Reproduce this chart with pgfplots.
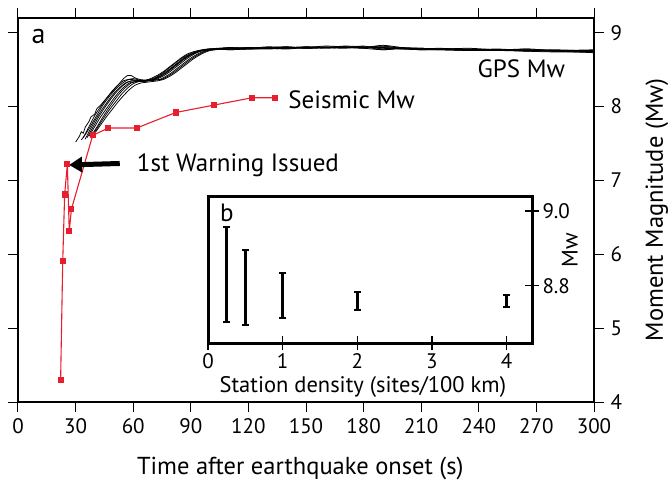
\documentclass[border=0pt]{standalone}
\usepackage{fontspec}
\setmainfont{PT Sans}
\usepackage{pgfplots}
\pgfplotsset{compat=1.18}
\usetikzlibrary{arrows.meta}
\definecolor{seisred}{RGB}{230,30,45}

\newcommand{\fs}[1]{\fontsize{#1}{#1}\selectfont}

\begin{document}
\begin{tikzpicture}
\useasboundingbox (0pt,0pt) rectangle (672pt,483pt);

% ---------------- main panel (a) ----------------
\begin{axis}[
  at={(18pt,81pt)}, anchor=south west,
  scale only axis, width=576pt, height=384pt,
  xmin=0, xmax=300, ymin=4, ymax=9.2,
  xtick={0,30,...,300}, ytick={4,5,...,9},
  tick align=outside, major tick length=10pt,
  xtick pos=both, ytick pos=both,
  xticklabel pos=lower, yticklabel pos=right,
  axis line style={line width=2pt},
  tick style={line width=1pt, black},
  /pgf/number format/assume math mode=true,
  ticklabel style={font=\fs{21}},
  xticklabel style={yshift=-3pt},
  yticklabel style={xshift=3pt},
  xlabel={Time after earthquake onset (s)},
  ylabel={Moment Magnitude (Mw)},
  label style={font=\fs{24.5}},
  xlabel style={at={(axis description cs:0.49,-0.19)}, anchor=base},
  ylabel style={at={(axis description cs:1.109,0.5)}, anchor=center},
  clip=false,
]

% GPS magnitude estimates (one line per solution)
\pgfplotsset{gps/.style={black, line width=0.75pt, no marks, smooth, tension=0.4}}
\addplot[gps] coordinates {(30,7.52) (32,7.60) (33,7.66) (34,7.64) (35,7.72) (37,7.80) (38,7.86) (40,7.90) (41,7.97) (43,8.02) (45,8.08) (47,8.14) (49,8.20) (51,8.26) (53,8.32) (55,8.38) (57,8.42) (59,8.42) (61,8.39) (63,8.37) (66,8.36) (69,8.37) (72,8.40) (75,8.45) (78,8.51) (81,8.57) (84,8.63) (87,8.68) (90,8.72) (93,8.75) (96,8.77) (99,8.78)
 (110,8.80) (120,8.79) (130,8.81) (140,8.80) (150,8.80) (160,8.82) (170,8.81) (180,8.80) (190,8.82) (200,8.79) (210,8.79) (220,8.78) (235,8.79) (250,8.77) (265,8.78) (280,8.76) (300,8.77)};
\addplot[gps] coordinates {(33,7.55) (35,7.62) (37,7.70) (39,7.79) (41,7.88) (43,7.97) (45,8.05) (48,8.15) (51,8.24) (54,8.31) (57,8.36) (60,8.38) (63,8.36) (66,8.35) (69,8.36) (72,8.39) (75,8.44) (78,8.49) (81,8.55) (84,8.61) (87,8.67) (90,8.71) (93,8.74) (96,8.76) (99,8.78)
 (110,8.78) (120,8.80) (130,8.79) (140,8.81) (150,8.79) (160,8.80) (170,8.80) (180,8.82) (190,8.78) (200,8.79) (210,8.78) (220,8.79) (235,8.77) (250,8.78) (265,8.76) (280,8.77) (300,8.75)};
\addplot[gps] coordinates {(34,7.58) (37,7.73) (40,7.88) (43,8.00) (46,8.11) (49,8.21) (52,8.29) (55,8.35) (58,8.37) (61,8.36) (64,8.35) (67,8.36) (70,8.39) (73,8.43) (76,8.48) (79,8.54) (82,8.60) (85,8.66) (88,8.71) (91,8.74) (94,8.76) (97,8.77) (100,8.78)
 (110,8.79) (120,8.78) (130,8.79) (140,8.79) (150,8.81) (160,8.80) (170,8.81) (180,8.79) (190,8.77) (200,8.79) (210,8.77) (220,8.77) (235,8.76) (250,8.76) (265,8.77) (280,8.75) (300,8.74)};
\addplot[gps] coordinates {(35,7.56) (38,7.71) (41,7.85) (44,7.97) (47,8.08) (50,8.18) (53,8.26) (56,8.32) (59,8.35) (62,8.35) (65,8.34) (68,8.35) (71,8.37) (74,8.41) (77,8.46) (80,8.52) (83,8.58) (86,8.64) (89,8.69) (92,8.73) (95,8.76) (98,8.77) (101,8.78)
 (110,8.78) (120,8.79) (130,8.80) (140,8.79) (150,8.80) (160,8.81) (170,8.80) (180,8.80) (190,8.83) (200,8.80) (210,8.78) (220,8.78) (235,8.77) (250,8.77) (265,8.76) (280,8.76) (300,8.74)};
\addplot[gps] coordinates {(36,7.58) (39,7.72) (42,7.86) (45,7.98) (48,8.09) (51,8.19) (54,8.27) (57,8.33) (60,8.35) (63,8.35) (66,8.35) (69,8.36) (72,8.38) (75,8.42) (78,8.47) (81,8.53) (84,8.59) (87,8.65) (90,8.70) (93,8.73) (96,8.76) (99,8.77) (102,8.78)
 (110,8.79) (120,8.80) (130,8.79) (140,8.80) (150,8.79) (160,8.80) (170,8.79) (180,8.81) (190,8.77) (200,8.79) (210,8.79) (220,8.78) (235,8.78) (250,8.76) (265,8.77) (280,8.75) (300,8.75)};
\addplot[gps] coordinates {(37,7.60) (40,7.73) (43,7.86) (46,7.97) (49,8.08) (52,8.18) (55,8.26) (58,8.32) (61,8.34) (64,8.35) (67,8.35) (70,8.36) (73,8.38) (76,8.42) (79,8.47) (82,8.53) (85,8.59) (88,8.65) (91,8.70) (94,8.74) (97,8.76) (100,8.77) (103,8.78)
 (110,8.77) (120,8.78) (130,8.78) (140,8.79) (150,8.80) (160,8.79) (170,8.80) (180,8.79) (190,8.80) (200,8.78) (210,8.77) (220,8.77) (235,8.76) (250,8.77) (265,8.75) (280,8.75) (300,8.73)};
\addplot[gps] coordinates {(38,7.60) (41,7.72) (44,7.85) (47,7.97) (50,8.08) (53,8.18) (56,8.26) (59,8.32) (62,8.34) (65,8.34) (68,8.35) (71,8.36) (74,8.37) (77,8.41) (80,8.46) (83,8.52) (86,8.58) (89,8.64) (92,8.69) (95,8.73) (98,8.76) (101,8.77) (104,8.78)
 (110,8.80) (120,8.79) (130,8.80) (140,8.81) (150,8.79) (160,8.80) (170,8.81) (180,8.80) (190,8.81) (200,8.80) (210,8.79) (220,8.78) (235,8.78) (250,8.76) (265,8.78) (280,8.76) (300,8.76)};
\addplot[gps] coordinates {(39,7.62) (42,7.74) (45,7.86) (48,7.97) (51,8.07) (54,8.17) (57,8.25) (60,8.31) (63,8.34) (66,8.35) (69,8.35) (72,8.36) (75,8.37) (78,8.41) (81,8.46) (84,8.52) (87,8.58) (90,8.64) (93,8.69) (96,8.73) (99,8.76) (102,8.77) (105,8.78)
 (110,8.78) (120,8.79) (130,8.79) (140,8.80) (150,8.81) (160,8.80) (170,8.82) (180,8.81) (190,8.79) (200,8.78) (210,8.78) (220,8.77) (235,8.77) (250,8.77) (265,8.76) (280,8.76) (300,8.75)};
\addplot[gps] coordinates {(40,7.64) (43,7.75) (46,7.86) (49,7.96) (52,8.06) (55,8.15) (58,8.23) (61,8.29) (64,8.32) (67,8.33) (70,8.34) (73,8.35) (76,8.37) (79,8.41) (82,8.46) (85,8.52) (88,8.58) (91,8.64) (94,8.69) (97,8.73) (100,8.76) (103,8.77) (106,8.78)
 (110,8.77) (120,8.78) (130,8.79) (140,8.78) (150,8.80) (160,8.80) (170,8.80) (180,8.80) (190,8.80) (200,8.79) (210,8.77) (220,8.78) (235,8.76) (250,8.76) (265,8.75) (280,8.74) (300,8.74)};

% seismic magnitude estimates
\addplot[seisred, line width=1.1pt, mark=square*, mark size=2.5pt] coordinates {
 (22.2,4.30) (23.3,5.91) (24.3,6.81) (25.7,7.22) (26.7,6.31) (27.8,6.61)
 (38.9,7.61) (47.0,7.71) (61.8,7.71) (82.1,7.92) (101.9,8.02) (121.9,8.12) (133.9,8.12)};

\node[anchor=base west, font=\fs{28}] at (axis cs:5.2,8.86) {a};
\node[anchor=base west, font=\fs{25}] at (axis cs:237.5,8.40) {GPS Mw};
\node[anchor=base west, font=\fs{25}] at (axis cs:139,7.98) {Seismic Mw};
\node[anchor=base west, font=\fs{25}] at (axis cs:60.1,7.12) {1st Warning Issued};
\draw[line width=5pt, -{Triangle[length=13pt,width=15pt]}] (axis cs:53,7.23) -- (axis cs:26.6,7.21);
\end{axis}

% ---------------- inset panel (b) ----------------
\begin{axis}[
  at={(208pt,140pt)}, anchor=south west,
  scale only axis, width=324pt, height=147pt,
  xmin=0, xmax=4.34, ymin=8.647, ymax=9.04,
  xtick={0,1,2,3,4}, ytick={8.8,9.0},
  xtick pos=lower, ytick pos=right,
  xticklabel pos=lower, yticklabel pos=right,
  tick align=center, major tick length=14pt,
  axis line style={line width=3pt},
  tick style={line width=1.2pt, black},
  axis background/.style={fill=white},
  /pgf/number format/assume math mode=true,
  yticklabel style={/pgf/number format/.cd, fixed, fixed zerofill, precision=1},
  ticklabel style={font=\fs{21}},
  xlabel={Station density (sites/100 km)},
  ylabel={Mw},
  label style={font=\fs{22.5}},
  xlabel style={at={(axis description cs:0.478,-0.34)}, anchor=base},
  ylabel style={at={(axis description cs:1.117,0.633)}, anchor=center},
  clip=false,
]
% range of Mw estimates for each station density: (low) to (high)
\pgfplotsset{rng/.style={black, line width=2.5pt, mark=-, mark size=3.6pt, mark options={line width=2pt, solid}}}
\addplot[rng] coordinates {(0.25,8.703) (0.25,8.957)};
\addplot[rng] coordinates {(0.5,8.695) (0.5,8.895)};
\addplot[rng] coordinates {(1,8.713) (1,8.833)};
\addplot[rng] coordinates {(2,8.734) (2,8.784)};
\addplot[rng] coordinates {(4,8.744) (4,8.776)};
\node[anchor=base west, font=\fs{25}] at (axis cs:0.116,8.971) {b};
\end{axis}
\end{tikzpicture}
\end{document}
